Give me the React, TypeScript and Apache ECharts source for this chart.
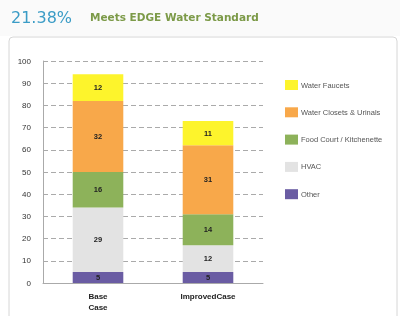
import React, { useEffect, useRef } from "react";
import * as echarts from "echarts";

const categories = ["Base\nCase", "ImprovedCase"];
const seriesNames = ["Other", "HVAC", "Food Court / Kitchenette", "Water Closets & Urinals", "Water Faucets"];
const other = [5, 5];
const hvac = [29, 12];
const food = [16, 14];
const closets = [32, 31];
const faucets = [12, 11];
const colors = ["#6A5CA3", "#E3E3E3", "#8DB25A", "#F8A84A", "#FDF42C"];
const yTicks = { min: 0, max: 100, interval: 10 };

export default function App() {
  const ref = useRef<HTMLDivElement>(null);
  useEffect(() => {
    if (!ref.current) return;
    const chart = echarts.init(ref.current, undefined, { renderer: "svg" });
    const values = [other, hvac, food, closets, faucets];
    chart.setOption({
      animation: false,
      textStyle: { fontFamily: "Liberation Sans" },
      graphic: [
        { type: "rect", shape: { x: 0, y: 0, width: 400, height: 36 }, style: { fill: "#fafafa" }, z: -10 },
        { type: "rect", shape: { x: 9, y: 37, width: 388, height: 290, r: 4 }, style: { fill: "#fff", stroke: "#d6d6d6", lineWidth: 1 }, z: -9 },
        { type: "text", x: 11, y: 17, style: { text: "21.38%", fill: "#3b9cc6", font: "16px 'DejaVu Sans'", verticalAlign: "middle" } },
        { type: "text", x: 90, y: 17, style: { text: "Meets EDGE Water Standard", fill: "#7c9a48", font: "bold 10.5px 'DejaVu Sans'", verticalAlign: "middle" } },
      ],
      grid: { left: 43, right: 137, top: 61, bottom: 33, containLabel: false },
      legend: {
        orient: "vertical",
        left: 280,
        top: 75,
        itemWidth: 13,
        itemHeight: 10,
        itemGap: 17.3,
        icon: "rect",
        data: [...seriesNames].reverse(),
        textStyle: { fontSize: 7.5, color: "#555", fontFamily: "Liberation Sans", padding: [0, 0, 0, -2] },
      },
      xAxis: {
        type: "category",
        data: categories,
        axisLine: { lineStyle: { color: "#aaa" } },
        axisTick: { lineStyle: { color: "#aaa" }, length: 5 },
        axisLabel: { fontSize: 8, fontWeight: "bold", color: "#222", lineHeight: 11, margin: 8 },
      },
      yAxis: {
        type: "value",
        min: yTicks.min,
        max: yTicks.max,
        interval: yTicks.interval,
        axisLine: { show: true, lineStyle: { color: "#aaa" } },
        axisTick: { show: false },
        axisLabel: { fontSize: 8, color: "#333", margin: 12 },
        splitLine: { lineStyle: { color: "#aaa", type: [5, 3] } },
      },
      series: seriesNames.map((name, i) => ({
        name,
        type: "bar",
        stack: "total",
        data: values[i],
        barWidth: "46%",
        itemStyle: { color: colors[i] },
        label: { show: true, position: "inside", fontSize: 7.5, fontWeight: "bold", color: "#222" },
      })),
    });
    return () => chart.dispose();
  }, []);
  return <div ref={ref} style={{ position: "fixed", left: 0, top: 0, width: 400, height: 316 }} />;
}
